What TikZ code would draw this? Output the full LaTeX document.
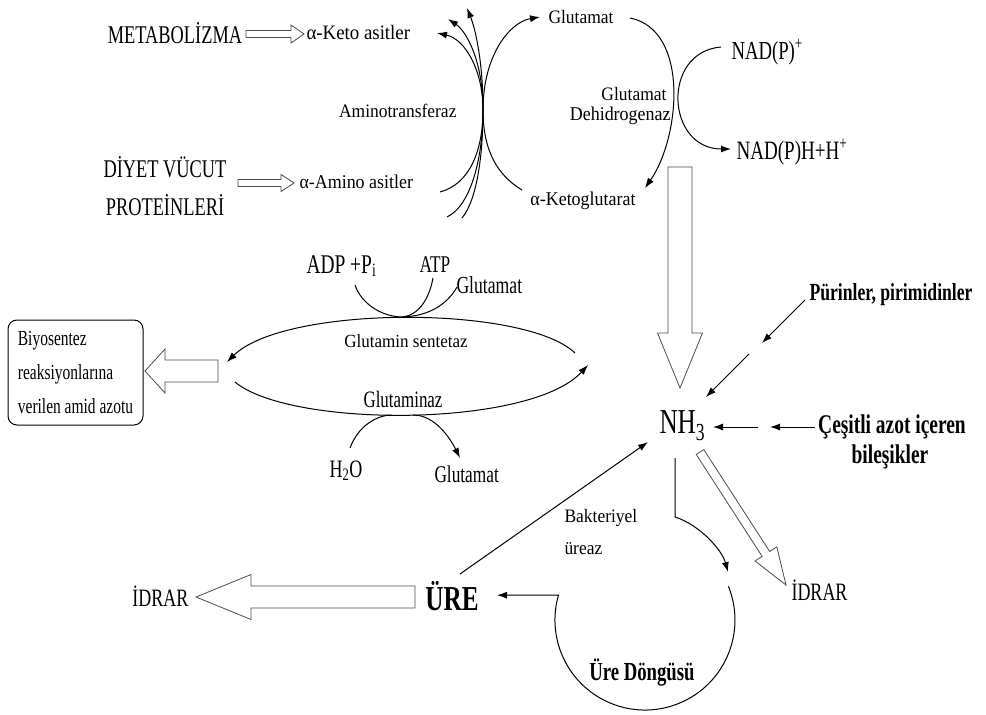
\documentclass[tikz,border=0pt]{standalone}
\usepackage{fontspec}
\setmainfont{Liberation Serif}
\newfontfamily\wideface{Liberation Serif}[FakeStretch=0.92]
\newfontfamily\slimface{Liberation Serif}[FakeStretch=0.72]
\usetikzlibrary{arrows.meta,calc}

% hollow block arrow: from, to, half shaft, half head, head length
\newcommand{\fatarrow}[5]{%
  \path let \p1=(#1), \p2=(#2) in \pgfextra{%
    \pgfmathsetmacro{\fatang}{atan2((\y2)-(\y1),(\x2)-(\x1))}%
    \pgfmathsetmacro{\fatlen}{veclen((\x2)-(\x1),(\y2)-(\y1))}%
    \global\let\fatang\fatang \global\let\fatlen\fatlen};
  \draw[fat arrow,shift={(#1)},rotate=\fatang]
    (0,#3) -- ({\fatlen-#5},#3) -- ({\fatlen-#5},#4) -- (\fatlen,0)
    -- ({\fatlen-#5},-#4) -- ({\fatlen-#5},-#3) -- (0,-#3) -- cycle;}

\begin{document}
\begin{tikzpicture}[x=1pt,y=-1pt,line width=1pt,
    >={Latex[length=10pt,width=7pt]},
    every node/.style={inner sep=1pt},
    slim text/.style={font=\slimface\fontsize{#1}{#1}\selectfont},
    wide text/.style={font=\wideface\fontsize{#1}{#1}\selectfont},
    bold text/.style={font=\slimface\bfseries\fontsize{#1}{#1}\selectfont},
    fat arrow/.style={draw=black!70,line width=0.8pt,fill=white}]
  \path[use as bounding box,fill=white] (0,0) rectangle (986,715);

  % sources of amino acids
  \node[slim text=25.5,anchor=base] (metab) at (175,43) {METABOLİZMA};
  \node[wide text=20.5,anchor=base west] (keto) at (305,39) {α-Keto asitler};
  \node[slim text=25.5,anchor=base] (diyet) at (165,177) {DİYET VÜCUT};
  \node[slim text=25.5,anchor=base] (prot) at (165,215) {PROTEİNLERİ};
  \node[wide text=19.5,anchor=base west] (amino) at (298,188) {α-Amino asitler};
  \node[wide text=19,anchor=base east] (amtr) at (458,117) {Aminotransferaz};

  % glutamate dehydrogenase
  \node[wide text=19,anchor=base west] (glu1) at (547,23) {Glutamat};
  \node[wide text=19,anchor=base east] (gdh1) at (668,100) {Glutamat};
  \node[wide text=19.5,anchor=base east] (gdh2) at (672,120) {Dehidrogenaz};
  \node[wide text=19.5,anchor=base east] (akg) at (637,205) {α-Ketoglutarat};
  \node[slim text=26,anchor=base west] (nadp) at (730,59) {NAD(P)\textsuperscript{+}};
  \node[slim text=26.5,anchor=base west] (nadph) at (735,159) {NAD(P)H+H\textsuperscript{+}};

  % glutamine cycle
  \node[slim text=27,anchor=base west] (adp) at (305,273) {ADP +P\textsubscript{i}};
  \node[slim text=24,anchor=base west] (atp) at (418,272) {ATP};
  \node[slim text=24.5,anchor=base west] (glu2) at (455,293) {Glutamat};
  \node[wide text=18.5,anchor=base] (gs) at (406,347) {Glutamin sentetaz};
  \node[slim text=23.5,anchor=base] (gase) at (403,407) {Glutaminaz};
  \node[slim text=25,anchor=base west] (water) at (328,477) {H\textsubscript{2}O};
  \node[slim text=24,anchor=base west] (glu3) at (433,482) {Glutamat};
  \node[draw,rounded corners=9pt,align=left,minimum width=135,minimum height=105,
    font=\slimface\fontsize{21.5}{34}\selectfont] (bio) at (75.5,372.5)
    {Biyosentez\\reaksiyonlarına\\verilen amid azotu};

  % ammonia and urea
  \node[slim text=35,anchor=base west] (nh3) at (658,433) {NH\textsubscript{3}};
  \node[bold text=24.5,anchor=base west] (pur) at (808,300) {Pürinler, pirimidinler};
  \node[bold text=27,anchor=base] (cesit) at (892,433) {Çeşitli azot içeren};
  \node[bold text=27,anchor=base] (bilesik) at (890,463) {bileşikler};
  \node[wide text=19,anchor=base west] (bakt) at (563,522) {Bakteriyel};
  \node[wide text=19,anchor=base west] (ureaz) at (563,554) {üreaz};
  \node[bold text=35,anchor=base] (ure) at (452,610) {ÜRE};
  \node[slim text=25,anchor=base east] (idrar1) at (190,606) {İDRAR};
  \node[slim text=25,anchor=base west] (idrar2) at (790,600) {İDRAR};
  \node[bold text=26,anchor=base] (cycle) at (642,680) {Üre Döngüsü};

  % hollow arrows
  \coordinate (m1) at (246,34);  \coordinate (m2) at (304,34);
  \coordinate (d1) at (238,183); \coordinate (d2) at (294,183);
  \coordinate (g3) at (680,167); \coordinate (g4) at (680,388);
  \coordinate (u2) at (415,597); \coordinate (u3) at (196,597);
  \coordinate (b1) at (218,371); \coordinate (b2) at (145,371);
  \coordinate (r1) at (700,452); \coordinate (r2) at (786,585);
  \fatarrow{m1}{m2}{3.5}{9}{13}
  \fatarrow{d1}{d2}{3.5}{8.5}{13}
  \fatarrow{g3}{g4}{12}{22.5}{55}
  \fatarrow{u2}{u3}{11}{22.5}{55}
  \fatarrow{b1}{b2}{11}{22}{20}
  \fatarrow{r1}{r2}{4.5}{13}{37}

  % aminotransferase cross
  \coordinate (cross) at (483,110);
  \coordinate (in1) at (440,192); \coordinate (in2) at (447,217); \coordinate (in3) at (462,218);
  \coordinate (out1) at (437,33); \coordinate (out2) at (448,19); \coordinate (out3) at (467,8);
  \coordinate (kin) at (522,190); \coordinate (kout) at (540,17);
  \draw[->] (in1) .. controls +(30,-8) and +(0,40) .. (cross)
    .. controls +(0,-40) and +(28,6) .. (out1);
  \draw[->] (in2) .. controls +(25,-12) and +(0,45) .. (cross)
    .. controls +(0,-50) and +(18,12) .. (out2);
  \draw[->] (in3) .. controls +(15,-18) and +(0,45) .. (cross)
    .. controls +(0,-50) and +(8,20) .. (out3);
  \draw[->] (kin) .. controls +(-25,-15) and +(0,40) .. (cross)
    .. controls +(0,-55) and +(-30,5) .. (kout);

  % dehydrogenase
  \coordinate (g1) at (630,18);  \coordinate (g2) at (645,188);
  \coordinate (n1) at (721,47);  \coordinate (n2) at (731,149);
  \draw[->] (g1) .. controls +(60,12) and +(35,-50) .. (g2);
  \draw[->] (n1) .. controls +(-60,5) and +(-65,0) .. (n2);

  % glutamine synthetase / glutaminase
  \coordinate (e1) at (575,353); \coordinate (e2) at (227,362);
  \coordinate (e3) at (235,382); \coordinate (e4) at (588,365);
  \draw[->] (e1) .. controls +(-50,-48) and +(58,-57) .. (e2);
  \draw[->] (e3) .. controls +(55,46) and +(-58,63) .. (e4);
  \coordinate (top) at (403,317);
  \coordinate (f1) at (355,285); \coordinate (f2) at (433,278); \coordinate (f3) at (457,287);
  \draw (f1) .. controls +(6,18) and +(-22,0) .. (top);
  \draw (f2) .. controls +(-4,22) and +(15,-2) .. (top);
  \draw (f3) .. controls +(-10,18) and +(25,-1) .. (top);
  \coordinate (bot1) at (392,415); \coordinate (bot2) at (413,415);
  \coordinate (h1) at (350,448);   \coordinate (h2) at (460,458);
  \draw (h1) .. controls +(8,-22) and +(-15,0) .. (bot1);
  \draw[->] (bot2) .. controls +(22,0) and +(-10,-20) .. (h2);

  % into ammonia
  \coordinate (p1) at (805,300); \coordinate (p2) at (762,343);
  \coordinate (p3) at (749,354); \coordinate (p4) at (706,397);
  \draw[->] (p1) -- (p2);
  \draw[->] (p3) -- (p4);
  \coordinate (c1) at (815,427); \coordinate (c2) at (770,427);
  \coordinate (c3) at (758,427); \coordinate (c4) at (713,427);
  \draw[->] (c1) -- (c2);
  \draw[->] (c3) -- (c4);
  \coordinate (u1) at (460,574); \coordinate (nin) at (648,442);
  \draw[->] (u1) -- (nin);

  % urea cycle
  \coordinate (v1) at (675,458); \coordinate (v2) at (675,517); \coordinate (v3) at (728,572);
  \draw[->] (v1) -- (v2) .. controls +(25,8) and +(-6,-22) .. (v3);
  \coordinate (cyc) at (728.4,586.3); \coordinate (uin) at (497,595.2);
  \draw[->] (cyc) arc[start angle=-22,end angle=196,radius=90] -- (uin);
\end{tikzpicture}
\end{document}
